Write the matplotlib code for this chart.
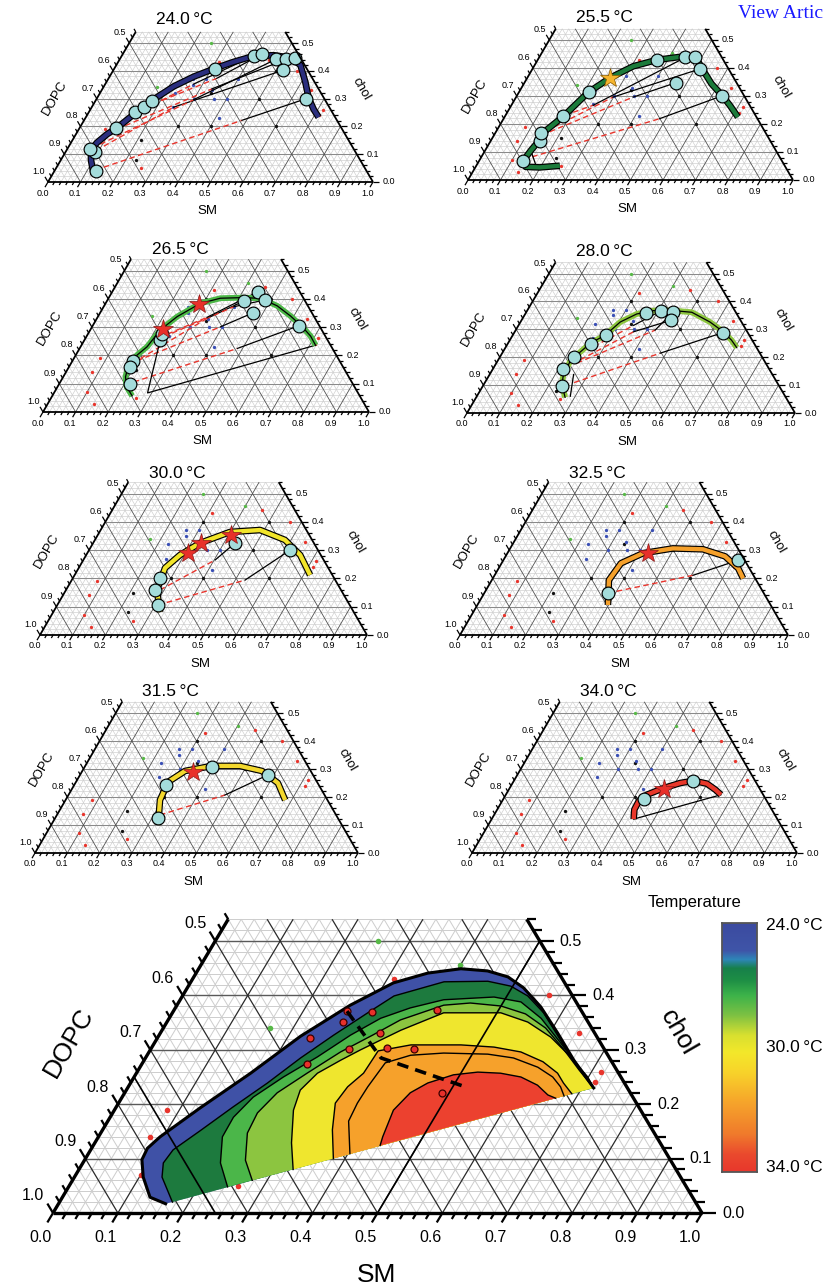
import numpy as np
import matplotlib
matplotlib.use('Agg')
import matplotlib.pyplot as plt
from matplotlib.collections import LineCollection
from matplotlib.colors import LinearSegmentedColormap

plt.rcParams['font.family'] = ['Liberation Sans', 'DejaVu Sans']

# ======================= DATA (SM, chol) =======================
panel_temps = ['24.0', '25.5', '26.5', '28.0', '30.0', '32.5', '31.5', '34.0']
tick_values = [0.0, 0.1, 0.2, 0.3, 0.4, 0.5, 0.6, 0.7, 0.8, 0.9, 1.0]
side_ticks = [0.0, 0.1, 0.2, 0.3, 0.4, 0.5]

samples_red = [(0.31, 0.43), (0.46, 0.44), (0.565, 0.40), (0.645, 0.33), (0.715, 0.26),
               (0.715, 0.24), (0.08, 0.19), (0.08, 0.14), (0.10, 0.07), (0.14, 0.03), (0.26, 0.05)]
samples_green = [(0.25, 0.50), (0.40, 0.455), (0.165, 0.34)]
samples_black = [(0.30, 0.40), (0.50, 0.40), (0.34, 0.32), (0.50, 0.30), (0.30, 0.20),
                 (0.40, 0.20), (0.60, 0.20), (0.21, 0.15), (0.23, 0.08)]
samples_blue = [(0.26, 0.37), (0.30, 0.37), (0.27, 0.35), (0.40, 0.37), (0.34, 0.33), (0.23, 0.32),
                (0.30, 0.30), (0.36, 0.30), (0.40, 0.30), (0.25, 0.27), (0.41, 0.23)]

binodal_240 = [(0.127, 0.027), (0.094, 0.077), (0.074, 0.116), (0.080, 0.142), (0.096, 0.172),
               (0.115, 0.195), (0.142, 0.243), (0.173, 0.293), (0.215, 0.344), (0.259, 0.379),
               (0.310, 0.409), (0.355, 0.432), (0.406, 0.453), (0.466, 0.456), (0.522, 0.447),
               (0.566, 0.421), (0.611, 0.361), (0.651, 0.302), (0.687, 0.261), (0.716, 0.233)]
circles_240 = [(0.128, 0.039), (0.090, 0.107), (0.071, 0.118), (0.113, 0.193), (0.143, 0.252),
               (0.160, 0.269), (0.173, 0.293), (0.312, 0.406), (0.406, 0.454), (0.428, 0.460),
               (0.481, 0.442), (0.512, 0.442), (0.538, 0.447), (0.522, 0.402), (0.645, 0.300)]
ties_240 = [((0.091, 0.113), (0.252, 0.269), (0.522, 0.402)),
            ((0.093, 0.136), (0.300, 0.296), (0.481, 0.442)),
            ((0.117, 0.190), (0.337, 0.335), (0.512, 0.442)),
            ((0.149, 0.249), (0.272, 0.352), (0.406, 0.454)),
            ((0.165, 0.269), (0.333, 0.373), (0.428, 0.460)),
            ((0.145, 0.053), (0.486, 0.222), (0.645, 0.300))]

binodal_255 = [(0.257, 0.051), (0.198, 0.045), (0.154, 0.047), (0.136, 0.071), (0.141, 0.107),
               (0.149, 0.142), (0.152, 0.178), (0.180, 0.2275), (0.213, 0.312), (0.255, 0.365),
               (0.305, 0.406), (0.367, 0.429), (0.441, 0.441), (0.483, 0.438), (0.516, 0.403),
               (0.577, 0.344), (0.632, 0.301), (0.672, 0.267), (0.718, 0.225)]
circles_255 = [(0.135, 0.069), (0.153, 0.140), (0.142, 0.168), (0.180, 0.2275), (0.215, 0.313),
               (0.367, 0.429), (0.450, 0.438), (0.479, 0.441), (0.516, 0.397), (0.467, 0.348),
               (0.632, 0.301)]
stars_255 = [(0.255, 0.365)]
ties_255 = [((0.134, 0.0735), (0.48, 0.219), (0.632, 0.301)),
            ((0.146, 0.16), (0.36, 0.296), (0.467, 0.348)),
            ((0.153, 0.175), (0.298, 0.296), (0.516, 0.397)),
            ((0.182, 0.231), (0.252, 0.267), (0.450, 0.438))]
extra_255 = [(0.145, 0.10), (0.187, 0.047)]

binodal_265 = [(0.245, 0.057), (0.212, 0.089), (0.191, 0.124), (0.178, 0.171), (0.188, 0.201),
               (0.204, 0.2305), (0.215, 0.29), (0.243, 0.337), (0.291, 0.384), (0.343, 0.402),
               (0.404, 0.404), (0.466, 0.402), (0.531, 0.375), (0.59, 0.339), (0.645, 0.301),
               (0.687, 0.268), (0.718, 0.236)]
circles_265 = [(0.219, 0.098), (0.185, 0.181), (0.188, 0.160), (0.233, 0.254), (0.228, 0.275),
               (0.42, 0.392), (0.447, 0.4255), (0.483, 0.396), (0.47, 0.351), (0.633, 0.305)]
stars_265 = [(0.289, 0.382), (0.223, 0.292)]
ties_265 = [((0.225, 0.106), (0.484, 0.2246), (0.633, 0.305)),
            ((0.198, 0.181), (0.394, 0.301), (0.47, 0.351)),
            ((0.2045, 0.189), (0.338, 0.331), (0.42, 0.392)),
            ((0.2375, 0.266), (0.3995, 0.372), (0.483, 0.396)),
            ((0.2435, 0.275), (0.336, 0.3345), (0.447, 0.4255))]
extra_265 = [(0.718, 0.236), (0.287, 0.0674), (0.229, 0.266)]

binodal_280 = [(0.271, 0.056), (0.238, 0.103), (0.225, 0.138), (0.222, 0.185), (0.2285, 0.203),
               (0.251, 0.25), (0.282, 0.279), (0.304, 0.326), (0.34, 0.355), (0.385, 0.367),
               (0.446, 0.367), (0.505, 0.361), (0.578, 0.326), (0.636, 0.291), (0.676, 0.261),
               (0.705, 0.2345)]
circles_280 = [(0.240, 0.097), (0.213, 0.159), (0.2275, 0.199), (0.254, 0.2485), (0.284, 0.281),
               (0.367, 0.359), (0.408, 0.366), (0.447, 0.361), (0.455, 0.332), (0.636, 0.288)]
ties_280 = [((0.272, 0.109), (0.482, 0.2145), (0.636, 0.288)),
            ((0.25, 0.191), (0.362, 0.291), (0.455, 0.332)),
            ((0.267, 0.238), (0.351, 0.314), (0.408, 0.366)),
            ((0.2455, 0.179), (0.425, 0.297), (0.447, 0.361))]
extra_280 = [(0.285, 0.06), (0.256, 0.138)]

binodal_300 = [(0.3265, 0.081), (0.278, 0.159), (0.264, 0.237), (0.287, 0.283), (0.327, 0.325),
               (0.399, 0.364), (0.4875, 0.371), (0.581, 0.336), (0.654, 0.283), (0.72, 0.212)]
circles_300 = [(0.308, 0.106), (0.272, 0.159), (0.267, 0.20), (0.434, 0.325), (0.615, 0.30)]
stars_300 = [(0.308, 0.29), (0.33, 0.325), (0.408, 0.353)]
ties_300 = [((0.308, 0.106), (0.53, 0.194), (0.615, 0.30)),
            ((0.287, 0.159), (0.403, 0.265), (0.434, 0.325))]

binodal_325 = [(0.398, 0.106), (0.357, 0.194), (0.364, 0.2535), (0.4135, 0.289), (0.496, 0.306),
               (0.589, 0.303), (0.669, 0.278), (0.73, 0.236), (0.763, 0.20)]
circles_325 = [(0.377, 0.148), (0.7156, 0.264)]
stars_325 = [(0.429, 0.289)]
ties_325 = [((0.377, 0.148), (0.605, 0.211), (0.7156, 0.264))]

binodal_315 = [(0.331, 0.10), (0.2925, 0.189), (0.285, 0.2536), (0.318, 0.293), (0.3925, 0.311),
               (0.479, 0.311), (0.556, 0.293), (0.627, 0.25), (0.68, 0.189)]
circles_315 = [(0.318, 0.125), (0.284, 0.243), (0.394, 0.307), (0.582, 0.279)]
stars_315 = [(0.345, 0.289)]
ties_315 = [((0.319, 0.136), (0.4845, 0.207), (0.582, 0.279))]

binodal_340 = [(0.437, 0.121), (0.422, 0.155), (0.4205, 0.1845), (0.434, 0.208), (0.474, 0.232),
               (0.516, 0.25), (0.553, 0.258), (0.599, 0.2476), (0.636, 0.226), (0.662, 0.208)]
circles_340 = [(0.4335, 0.193), (0.552, 0.256)]
stars_340 = [(0.475, 0.23)]
extra_340 = [(0.437, 0.121), (0.662, 0.208)]

# big composite plot: iso-temperature boundaries (outermost = 24.0 C)
iso_lines = [
    [(0.165, 0.017), (0.135, 0.029), (0.106, 0.066), (0.088, 0.098), (0.086, 0.119), (0.095, 0.140),
     (0.130, 0.193), (0.176, 0.257), (0.219, 0.325), (0.267, 0.382), (0.313, 0.423), (0.357, 0.441),
     (0.404, 0.449), (0.447, 0.445), (0.484, 0.434), (0.518, 0.414), (0.562, 0.379), (0.612, 0.331),
     (0.662, 0.281), (0.718, 0.230)],
    [(0.174, 0.020), (0.135, 0.066), (0.124, 0.092), (0.127, 0.116), (0.151, 0.151), (0.180, 0.195),
     (0.211, 0.239), (0.239, 0.285), (0.269, 0.327), (0.301, 0.368), (0.326, 0.399), (0.390, 0.425),
     (0.457, 0.426), (0.497, 0.417), (0.532, 0.399), (0.572, 0.368), (0.623, 0.318), (0.675, 0.268),
     (0.718, 0.230)],
    [(0.245, 0.048), (0.212, 0.092), (0.191, 0.140), (0.190, 0.176), (0.202, 0.213), (0.230, 0.250),
     (0.264, 0.287), (0.295, 0.327), (0.326, 0.358), (0.362, 0.377), (0.406, 0.392), (0.481, 0.397),
     (0.527, 0.388), (0.573, 0.358), (0.626, 0.3125), (0.682, 0.263), (0.718, 0.230)],
    [(0.277, 0.060), (0.248, 0.097), (0.226, 0.147), (0.223, 0.184), (0.235, 0.221), (0.263, 0.257),
     (0.295, 0.296), (0.329, 0.327), (0.358, 0.355), (0.411, 0.382), (0.450, 0.386), (0.500, 0.3805),
     (0.545, 0.366), (0.589, 0.340), (0.634, 0.303), (0.679, 0.263), (0.718, 0.230)],
    [(0.330, 0.080), (0.303, 0.129), (0.276, 0.189), (0.268, 0.226), (0.279, 0.257), (0.303, 0.281),
     (0.324, 0.300), (0.368, 0.336), (0.418, 0.368), (0.506, 0.368), (0.556, 0.351), (0.605, 0.3235),
     (0.654, 0.287), (0.699, 0.25), (0.718, 0.230)],
    [(0.382, 0.100), (0.354, 0.153), (0.334, 0.202), (0.338, 0.232), (0.350, 0.257), (0.352, 0.298),
     (0.397, 0.309), (0.474, 0.309), (0.527, 0.305), (0.573, 0.296), (0.616, 0.278), (0.649, 0.257),
     (0.667, 0.239), (0.690, 0.219)],
    [(0.403, 0.109), (0.371, 0.169), (0.368, 0.202), (0.369, 0.232), (0.374, 0.276), (0.406, 0.290),
     (0.455, 0.294), (0.524, 0.292), (0.567, 0.285), (0.613, 0.268), (0.645, 0.250), (0.666, 0.232),
     (0.680, 0.215)],
    [(0.442, 0.124), (0.438, 0.140), (0.430, 0.189), (0.440, 0.221), (0.458, 0.239), (0.490, 0.254),
     (0.525, 0.259), (0.561, 0.257), (0.596, 0.250), (0.629, 0.235), (0.654, 0.217), (0.669, 0.211)],
]
big_points = [(0.268, 0.371), (0.307, 0.370), (0.272, 0.351), (0.235, 0.321), (0.255, 0.273),
              (0.305, 0.301), (0.405, 0.373), (0.339, 0.330), (0.363, 0.303), (0.406, 0.301),
              (0.489, 0.220)]
big_dashed = [(0.2675, 0.371), (0.363, 0.285), (0.525, 0.23)]
colorbar_labels = ['24.0\u2009°C', '30.0\u2009°C', '34.0\u2009°C']

# ======================= STYLE / LAYOUT =======================
FIG_W, FIG_H = 826, 1287
fig = plt.figure(figsize=(FIG_W / 100, FIG_H / 100), dpi=100)
CMAX = 0.54
RED = '#E8342C'
CYAN = '#A4DCDB'

band_colors = ['#3F51A6', '#1D7A3E', '#4BB649', '#8CC540', '#EFE62E', '#F6A12B', '#F6A12B', '#EC412F']


def tx(pts):
    a = np.asarray(pts, float)
    return a[:, 0] + a[:, 1] / 2.0, a[:, 1]


def make_axes(x0, y0, w, hc, xl, yl):
    left = x0 + xl[0] * w
    width = (xl[1] - xl[0]) * w
    bottom = (FIG_H - y0) + yl[0] * hc
    height = (yl[1] - yl[0]) * hc
    ax = fig.add_axes([left / FIG_W, bottom / FIG_H, width / FIG_W, height / FIG_H])
    ax.set_xlim(*xl)
    ax.set_ylim(*yl)
    ax.axis('off')
    ax.patch.set_alpha(0)
    return ax


def draw_frame(ax, W, Hc, big=False):
    cm = CMAX
    mnr, maj, hmaj = [], [], []
    for i in range(1, 50):
        v = i * 0.02
        major = (i % 5 == 0)
        if v <= cm + 1e-9:
            (hmaj if major else mnr).append([(v / 2, v), (1 - v / 2, v)])
        ce = min(cm, 1 - v)
        (maj if major else mnr).append([(v, 0), (v + ce / 2, ce)])
        t = 1 - v
        ce = min(cm, t)
        (maj if major else mnr).append([(t, 0), (t - ce / 2, ce)])
    ax.add_collection(LineCollection(mnr, colors='#cdcdcd', lw=0.7 if big else 0.45, zorder=1))
    ax.add_collection(LineCollection(hmaj, colors='#5a5a5a' if big else '#8a8a8a',
                                     lw=1.0 if big else 0.75, zorder=1.2))
    ax.add_collection(LineCollection(maj, colors='#2a2a2a' if big else '#505050',
                                     lw=0.9 if big else 0.6, zorder=1.2))
    flw = 2.4 if big else 1.3
    ax.plot([0, 1], [0, 0], color='k', lw=flw, zorder=8, solid_capstyle='butt')
    ax.plot([0, cm / 2], [0, cm], color='k', lw=flw, zorder=8, solid_capstyle='butt')
    ax.plot([1, 1 - cm / 2], [0, cm], color='k', lw=flw, zorder=8, solid_capstyle='butt')
    dl = np.hypot(0.5 * W, Hc)
    Lmaj = (11 if big else 6) / dl
    Lmin = (7 if big else 3.5) / dl
    Rmaj = (14 if big else 6) / W
    Rmin = (9 if big else 3.5) / W
    tks = []
    for i in range(0, 51):
        s = i * 0.02
        L = Lmaj if i % 5 == 0 else Lmin
        tks.append([(s, 0), (s - 0.5 * L, -L)])
    for i in range(0, int(round(cm / 0.02)) + 1):
        c = i * 0.02
        L = Lmaj if i % 5 == 0 else Lmin
        tks.append([(c / 2, c), (c / 2 - 0.5 * L, c + L)])
        R = Rmaj if i % 5 == 0 else Rmin
        tks.append([(1 - c / 2, c), (1 - c / 2 + R, c)])
    ax.add_collection(LineCollection(tks, colors='k', lw=1.6 if big else 0.9, zorder=8))
    fs = 11.5 if big else 6.5
    if big:
        bo, lo, ro = (-12, -25), (-20, 17), 20
    else:
        bo, lo, ro = (-5.5, -11), (-9, 10.5), 10
    for v in tick_values:
        ax.text(v + bo[0] / W, bo[1] / Hc, f'{v:.1f}', fontsize=fs, ha='center', va='center')
    for c in side_ticks:
        ax.text(c / 2 + lo[0] / W, c + lo[1] / Hc, f'{1 - c:.1f}', fontsize=fs, ha='center', va='center')
        ax.text(1 - c / 2 + ro / W, c, f'{c:.1f}', fontsize=fs, ha='left', va='center')
    if big:
        ax.text(0.498, -62 / Hc, 'SM', fontsize=19, ha='center', va='center')
        ax.text(16 / W, 170 / Hc, 'DOPC', fontsize=19, ha='center', va='center', rotation=60)
        ax.text(0.963, 180 / Hc, 'chol', fontsize=19, ha='center', va='center', rotation=-60)
    else:
        ax.text(0.49, -29 / Hc, 'SM', fontsize=9.5, ha='center', va='center')
        ax.text(7 / W, 84 / Hc, 'DOPC', fontsize=9.5, ha='center', va='center', rotation=60)
        ax.text(0.965, 93 / Hc, 'chol', fontsize=9.5, ha='center', va='center', rotation=-60)


def draw_samples(ax, ms):
    for pts, col in [(samples_black, '#111111'), (samples_blue, '#3A4FB5'),
                     (samples_red, RED), (samples_green, '#57B947')]:
        x, y = tx(pts)
        ax.plot(x, y, 'o', ms=ms, color=col, mew=0, zorder=2)


panels = [
    ('24.0', (48, 182, 325, 278), binodal_240, '#2B2F7E', True, circles_240, [], ties_240, None),
    ('25.5', (468, 180, 325, 280), binodal_255, '#1C7B3B', True, circles_255, stars_255, ties_255, extra_255),
    ('26.5', (43, 412, 326, 283), binodal_265, '#4DB848', False, circles_265, stars_265, ties_265, extra_265),
    ('28.0', (467, 413, 328, 279), binodal_280, '#8DC63F', False, circles_280, [], ties_280, extra_280),
    ('30.0', (40, 635, 327, 283), binodal_300, '#F2E52A', True, circles_300, stars_300, ties_300, None),
    ('32.5', (460, 635, 328, 283), binodal_325, '#F5A02A', True, circles_325, stars_325, ties_325, None),
    ('31.5', (35, 853, 323, 280), binodal_315, '#F3D82E', True, circles_315, stars_315, ties_315, None),
    ('34.0', (472, 853, 325, 280), binodal_340, '#E8372A', True, circles_340, stars_340, [], extra_340),
]

for temp, (x0, y0, W, Hc), curve, ccol, outline, circ, stars, ties, extra in panels:
    ax = make_axes(x0, y0, W, Hc, (-0.2, 1.2), (-0.17, 0.62))
    draw_frame(ax, W, Hc)
    draw_samples(ax, 2.4)
    for L, M, R in ties:
        ax.plot(*tx([L, M]), ls=(0, (4, 2.5)), color=RED, lw=1.0, zorder=3)
        ax.plot(*tx([M, R]), color='k', lw=0.9, zorder=3)
    if extra is not None:
        ax.plot(*tx(extra), color='k', lw=0.9, zorder=3)
    cx, cy = tx(curve)
    if outline:
        ax.plot(cx, cy, color='k', lw=4.8, zorder=4, solid_capstyle='butt')
        ax.plot(cx, cy, color=ccol, lw=3.1, zorder=4.1, solid_capstyle='butt')
    else:
        ax.plot(cx, cy, color=ccol, lw=4.2, zorder=4, solid_capstyle='butt')
        ax.plot(cx, cy, color='k', lw=0.9, zorder=4.1)
    x, y = tx(circ)
    ax.plot(x, y, 'o', ms=9.2, mfc=CYAN, mec='k', mew=0.85, zorder=5)
    if stars:
        x, y = tx(stars)
        if temp == '25.5':
            ax.plot(x, y, '*', ms=14.5, mfc='#F5B52E', mec='#8a5a00', mew=0.5, zorder=6)
        else:
            ax.plot(x, y, '*', ms=14.5, mfc='#E8302A', mec='#8B1A1A', mew=0.5, zorder=6)
    ax.text(0.42, 162 / Hc, f'{temp}\u2009°C', fontsize=12.5, ha='center', va='center')

# ----------------- big composite plot -----------------
BX0, BY0, BW, BH = 53, 1213, 649, 544
bax = make_axes(BX0, BY0, BW, BH, (-0.1, 1.1), (-0.15, 0.62))
draw_frame(bax, BW, BH, big=True)
draw_samples(bax, 4.0)
for k, line in enumerate(iso_lines):
    x, y = tx(line)
    bax.fill(x, y, color=band_colors[k], lw=0, zorder=3)
for k, line in enumerate(iso_lines):
    x, y = tx(line)
    bax.plot(x, y, color='k', lw=2.2 if k == 0 else 1.0, zorder=4)
# straight reference lines drawn over the map
bax.plot(*tx([(0.5, 0.0), (0.5, 0.5)]), color='k', lw=1.2, zorder=4.5)
bax.plot(*tx([(0.0, 0.25), (0.25, 0.0)]), color='k', lw=1.2, zorder=4.5)
x, y = tx(big_points)
bax.plot(x, y, 'o', ms=5, mfc='#E8302A', mec='#3a0000', mew=0.9, zorder=6)
bax.plot(*tx(big_dashed), color='k', lw=2.6, ls=(0, (3.2, 2.0)), zorder=7)

# ----------------- colorbar -----------------
cmap = LinearSegmentedColormap.from_list('temp', [
    (0.0, '#3C4BA0'), (0.11, '#3F55A8'), (0.145, '#2E86B8'), (0.18, '#17804A'),
    (0.23, '#1E8F45'), (0.29, '#3DB34A'), (0.37, '#7DC143'), (0.45, '#D8E030'),
    (0.52, '#F3E82A'), (0.6, '#F8D32A'), (0.72, '#F6A52B'), (0.85, '#F07A2C'),
    (0.93, '#EA4A2E'), (1.0, '#E8372C')])
cb_l, cb_t, cb_r, cb_b = 722, 923, 757, 1172
cax = fig.add_axes([cb_l / FIG_W, (FIG_H - cb_b) / FIG_H, (cb_r - cb_l) / FIG_W, (cb_b - cb_t) / FIG_H])
grad = np.linspace(0, 1, 256)[:, None]
cax.imshow(grad, aspect='auto', cmap=cmap, extent=(0, 1, 1, 0))
cax.set_xticks([])
cax.set_yticks([])
for sp in cax.spines.values():
    sp.set_color('#555555')
    sp.set_linewidth(1.3)
fig.text(694 / FIG_W, 1 - 903 / FIG_H, 'Temperature', fontsize=12, ha='center', va='center')
for lab, yy in zip(colorbar_labels, [926, 1047, 1168]):
    fig.text(766 / FIG_W, 1 - yy / FIG_H, lab, fontsize=12.5, ha='left', va='center')

# visible part of the page link shown at the top-right of the reference
fig.text(823 / FIG_W, 1 - 14 / FIG_H, 'View Artic', fontsize=14, color='#1a1aff',
         family=['Liberation Serif', 'DejaVu Serif'], ha='right', va='center')

fig.savefig('out.png', dpi=100)
